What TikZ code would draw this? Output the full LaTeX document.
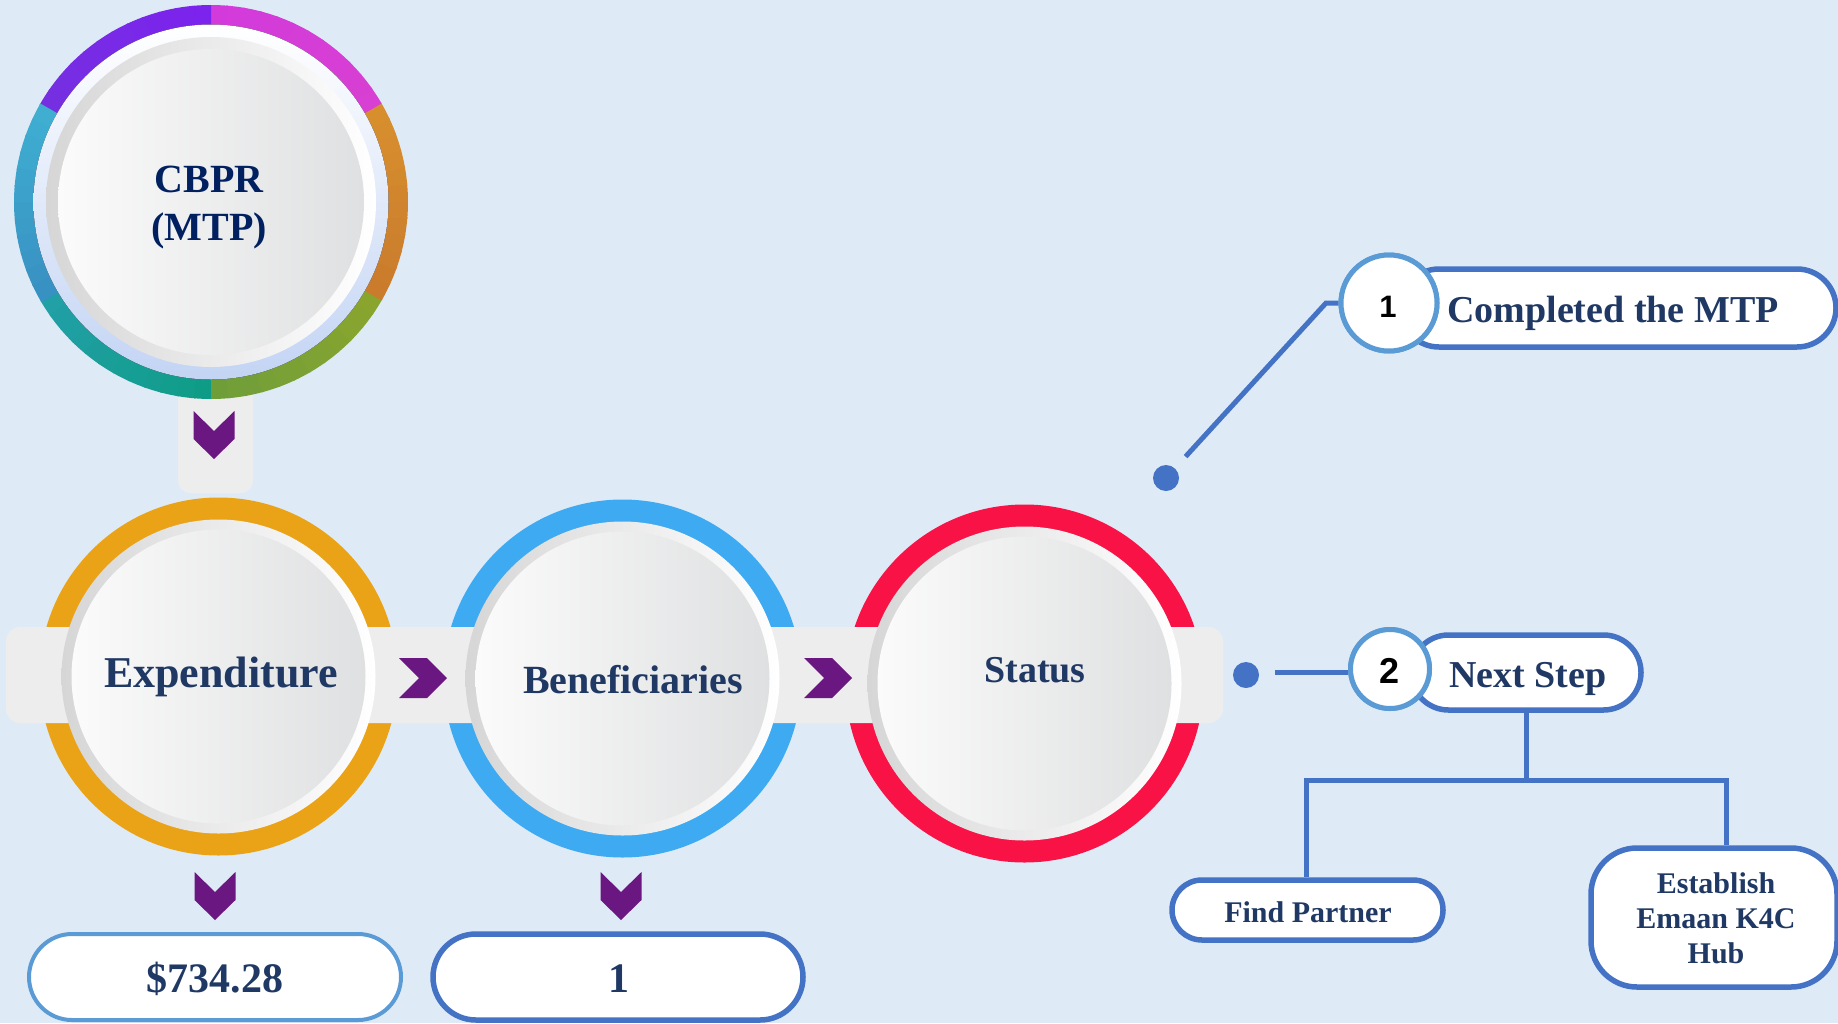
\documentclass[tikz,border=0pt]{standalone}
\usepackage{fontspec}
\setmainfont{Liberation Serif}
\newfontfamily\numfont{Liberation Sans}
\usetikzlibrary{calc}
\definecolor{bg}{HTML}{DEEBF7}
\definecolor{bandc}{HTML}{EDEDED}
\definecolor{ringO}{HTML}{EAA317}
\definecolor{ringB}{HTML}{3EAAF2}
\definecolor{ringR}{HTML}{F81245}
\definecolor{chevc}{HTML}{6B1782}
\definecolor{lineb}{HTML}{4472C4}
\definecolor{lightb}{HTML}{5B9BD5}
\definecolor{navy}{HTML}{1F3864}
\definecolor{navyd}{HTML}{002060}
\definecolor{paleb}{HTML}{C3D4F4}
\definecolor{bevL}{HTML}{D6D6D6}
\definecolor{diskL}{HTML}{FBFBFB}
\definecolor{diskR}{HTML}{DFE0E1}
\definecolor{vA}{HTML}{7C22EE}
\definecolor{vB}{HTML}{7530E0}
\definecolor{mA}{HTML}{D840D2}
\definecolor{mB}{HTML}{D23ADC}
\definecolor{oA}{HTML}{C97A2C}
\definecolor{oB}{HTML}{D8902E}
\definecolor{gA}{HTML}{6E9E3A}
\definecolor{gB}{HTML}{8BA52E}
\definecolor{tA}{HTML}{22A0A8}
\definecolor{tB}{HTML}{0E9C86}
\definecolor{cA}{HTML}{3FB0D2}
\definecolor{cB}{HTML}{3890C2}
\begin{document}
\begin{tikzpicture}[x=1pt,y=-1pt,
  ctext/.style={text=navy, inner sep=0, font=\bfseries},
  conn/.style={draw=lineb, line width=5},
  pillA/.style={draw=lightb, line width=4, fill=white, rectangle, inner sep=0},
  pillB/.style={draw=lineb, line width=5.5, fill=white, rectangle, inner sep=0},
  numcirc/.style={draw=lightb, line width=5, fill=white, circle, inner sep=0},
  dotnode/.style={circle, fill=lineb, minimum size=26, inner sep=0},
  bevel/.style={circle, inner sep=0, left color=bevL, right color=white, draw=none},
  disk/.style={circle, inner sep=0, left color=diskL, right color=diskR, draw=none},
  rchev/.pic={\fill[chevc] (-24,-20) -- (4,-20) -- (24,0) -- (4,20) -- (-24,20) -- (-4,0) -- cycle;},
  dchev/.pic={\fill[chevc] (-20.5,-24) -- (0,-4) -- (20.5,-24) -- (20.5,4) -- (0,24) -- (-20.5,4) -- cycle;}
]
\useasboundingbox (0,0) rectangle (1838,1023);
\fill[bg] (0,0) rectangle (1838,1023);

% stem under CBPR
\fill[bandc, rounded corners=12] (178,380) rectangle (253,493);

% CBPR ring
\coordinate (cbprc) at (211,202);
\foreach \a/\ca/\cb in {-150/tA/tB,-90/gA/gB,-30/oA/oB,30/mA/mB,90/vA/vB,150/cA/cB}{
  \foreach \i in {0,...,11}{
    \pgfmathtruncatemacro\p{100-(\i+0.5)*100/12}
    \pgfmathsetmacro\s{-(\a+\i*5)}
    \pgfmathsetmacro\e{-(\a+\i*5+5.6)}
    \colorlet{segc}{\ca!\p!\cb}
    \fill[segc] ($(cbprc)+(\s:197)$) arc[start angle=\s,end angle=\e,radius=197]
      -- ($(cbprc)+(\e:177)$) arc[start angle=\e,end angle=\s,radius=177] -- cycle;
  }
}
\fill[top color=white, bottom color=paleb] (cbprc) circle[radius=177.5];
\node[bevel, minimum size=330] (cbprb) at (cbprc) {};
\node[disk, minimum size=306] (cbpr) at (cbprc) {};
\node[ctext, text=navyd, align=center, font=\bfseries\fontsize{40}{48}\selectfont, anchor=base] (cbprT) at (209,240) {CBPR\\(MTP)};

% coloured rings
\fill[ringO] (218.5,676.5) circle[radius=179];
\fill[ringB] (622.5,678.5) circle[radius=179];
\fill[ringR] (1024.5,683.5) circle[radius=179];

% band
\fill[bandc, rounded corners=14] (6,627) rectangle (1223,723);

% white discs
\node[bevel, minimum size=314] (expb) at (218.5,676.5) {};
\node[disk, minimum size=294] (exp) at (218.5,676.5) {};
\node[bevel, minimum size=314] (benb) at (622.5,678.5) {};
\node[disk, minimum size=294] (ben) at (622.5,678.5) {};
\node[bevel, minimum size=314] (stab) at (1024.5,683.5) {};
\node[disk, minimum size=294] (sta) at (1024.5,683.5) {};

\node[ctext, font=\bfseries\fontsize{44}{50}\selectfont, anchor=base] (expT) at (221,687) {Expenditure};
\node[ctext, font=\bfseries\fontsize{40}{46}\selectfont, anchor=base] (benT) at (633,693) {Beneficiaries};
\node[ctext, font=\bfseries\fontsize{38}{44}\selectfont, anchor=base] (staT) at (1035,682) {Status};

% chevrons
\pic at (214,435) {dchev};
\pic at (423,678) {rchev};
\pic at (828,678) {rchev};
\pic at (215,896) {dchev};
\pic at (621,896) {dchev};

% bottom pills
\node[pillA, minimum width=372, minimum height=86, rounded corners=43] (amt) at (215,977) {};
\node[ctext, font=\bfseries\fontsize{42}{48}\selectfont, anchor=base] (amtT) at (215,992) {\$734.28};
\node[pillB, minimum width=370, minimum height=86, rounded corners=43] (cnt) at (618,977) {};
\node[ctext, font=\bfseries\fontsize{42}{48}\selectfont, anchor=base] (cntT) at (619,992) {1};

% callout 1
\node[dotnode] (d1) at (1166,478) {};
\coordinate (k1) at (1326,303);
\node[pillB, minimum width=436, minimum height=78, rounded corners=39] (p1) at (1618,308) {};
\node[numcirc, minimum size=96] (c1) at (1389,303) {};
\draw[conn] ($(d1)!29pt!(k1)$) -- (k1) -- (c1.west);
\node[numcirc, minimum size=96] at (1389,303) {};
\node[inner sep=0, font=\numfont\bfseries\fontsize{31}{31}\selectfont, anchor=base] (c1T) at (1388,317) {1};
\node[ctext, font=\bfseries\fontsize{38}{44}\selectfont, anchor=base] (p1T) at (1613,322) {Completed the MTP};

% callout 2
\node[dotnode] (d2) at (1246,675) {};
\coordinate (l2s) at (1275,672);
\node[pillB, minimum width=230, minimum height=75, rounded corners=37.5] (p2) at (1526,672.5) {};
\node[numcirc, minimum size=79] (c2) at (1390,669) {};
\draw[conn] (l2s) -- (l2s -| c2.west);
\node[numcirc, minimum size=79] at (1390,669) {};
\node[inner sep=0, font=\numfont\bfseries\fontsize{36}{36}\selectfont, anchor=base] (c2T) at (1389,683) {2};
\node[ctext, font=\bfseries\fontsize{38}{44}\selectfont, anchor=base] (p2T) at (1528,687) {Next Step};

% tree
\node[pillB, minimum width=271, minimum height=60, rounded corners=30] (fp) at (1307.5,910) {};
\node[pillB, minimum width=246, minimum height=139, rounded corners=46] (est) at (1714,917.5) {};
\draw[conn] (p2.south) -- ++(0,68) coordinate (j);
\draw[conn] ([xshift=-1.5pt]fp.north) |- (j) -| ([xshift=12pt]est.north);
\node[ctext, font=\bfseries\fontsize{30}{36}\selectfont, anchor=base] (fpT) at (1308,922) {Find Partner};
\node[ctext, align=center, font=\bfseries\fontsize{30}{35}\selectfont] (estT) at (1716,918) {Establish\\Emaan K4C\\Hub};
\end{tikzpicture}
\end{document}
